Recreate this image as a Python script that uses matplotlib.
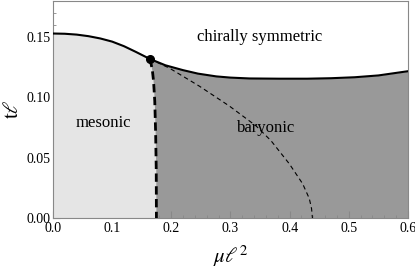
import numpy as np
import matplotlib
matplotlib.use("Agg")
import matplotlib.pyplot as plt
from matplotlib.ticker import MultipleLocator

plt.rcParams['font.family'] = ['Liberation Serif', 'DejaVu Serif']
plt.rcParams['mathtext.fontset'] = 'stix'

# upper phase boundary (solid), left part up to the critical point
x_up_left = [0.0, 0.02, 0.04, 0.06, 0.08, 0.10, 0.12, 0.14, 0.1635]
y_up_left = [0.1527, 0.1525, 0.1518, 0.1505, 0.1486, 0.1460, 0.1422, 0.1375, 0.1317]
# upper phase boundary, right part
x_up_right = [0.1635, 0.19, 0.2196, 0.245, 0.276, 0.30, 0.332, 0.3826, 0.43, 0.47, 0.51, 0.55, 0.60]
y_up_right = [0.1317, 0.1264, 0.1224, 0.1195, 0.1172, 0.1162, 0.1155, 0.1153, 0.1153, 0.1157, 0.1165, 0.1180, 0.1215]

# thick dashed (mesonic / baryonic)
x_thick = [0.1635, 0.166, 0.168, 0.170, 0.172, 0.1735, 0.1745, 0.1748]
y_thick = [0.1317, 0.127, 0.122, 0.113, 0.0967, 0.070, 0.040, 0.0]

# thin dashed line inside the baryonic phase
x_thin = [0.1635, 0.197, 0.2478, 0.2983, 0.3433, 0.3686, 0.3995, 0.4219, 0.4332, 0.437, 0.4385]
y_thin = [0.1317, 0.124, 0.109, 0.0926, 0.0762, 0.0639, 0.0448, 0.0284, 0.0161, 0.0078, 0.0]

crit = (0.1635, 0.1317)

fig = plt.figure(figsize=(4.15, 2.68), dpi=100)
ax = fig.add_axes([0.1277, 0.1866, 0.8554, 0.8114])

# baryonic fill under whole boundary
xb = x_up_left + x_up_right[1:]
yb = y_up_left + y_up_right[1:]
ax.fill_between(xb, 0, yb, color='#999999', lw=0, zorder=1)
# mesonic fill
mx = [0.0] + x_up_left + x_thick[1:] + [0.0]
my = [0.0] + y_up_left + y_thick[1:] + [0.0]
ax.fill(mx, my, color='#e5e5e5', lw=0, zorder=2)

ax.plot(xb, yb, color='black', lw=1.5, zorder=4)
ax.plot(x_thick, y_thick, color='black', lw=2.0, ls=(0, (3, 1.6)), zorder=4)
ax.plot(x_thin, y_thin, color='black', lw=0.8, ls=(0, (4, 3)), zorder=3)
ax.plot(*crit, 'o', color='black', ms=5.5, zorder=5)

ax.text(0.349, 0.15, 'chirally symmetric', ha='center', va='center', fontsize=12)
ax.text(0.0843, 0.0789, 'mesonic', ha='center', va='center', fontsize=12)
ax.text(0.3607, 0.0746, 'baryonic', ha='center', va='center', fontsize=12)

ax.set_xlim(0, 0.6)
ax.set_ylim(0, 0.18)
ax.xaxis.set_major_locator(MultipleLocator(0.1))
ax.xaxis.set_minor_locator(MultipleLocator(0.02))
ax.yaxis.set_major_locator(MultipleLocator(0.05))
ax.yaxis.set_minor_locator(MultipleLocator(0.01))
ax.xaxis.set_major_formatter(matplotlib.ticker.FormatStrFormatter('%.1f'))
ax.yaxis.set_major_formatter(matplotlib.ticker.FormatStrFormatter('%.2f'))
ax.tick_params(which='both', direction='in', top=False, right=False, color='#888888',
               labelsize=10, pad=2)
ax.tick_params(axis='x', pad=3)
ax.tick_params(which='major', length=5)
ax.tick_params(which='minor', length=2.5)
for s in ax.spines.values():
    s.set_color('#888888')
    s.set_linewidth(0.8)

ax.set_xlabel(r'$\mu\ell^2$', fontsize=15, labelpad=6)
ax.set_ylabel(r'$\mathrm{t}\ell$', fontsize=15, labelpad=2)

fig.savefig('out.png', dpi=100)
